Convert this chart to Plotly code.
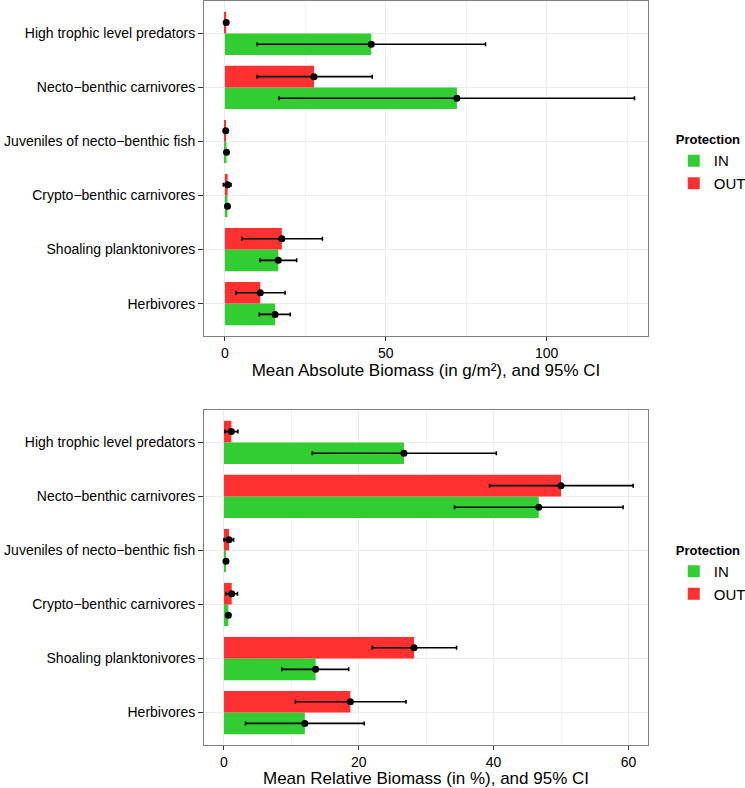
import plotly.graph_objects as go

categories = ["Herbivores", "Shoaling planktonivores", "Crypto\u2212benthic carnivores",
              "Juveniles of necto\u2212benthic fish", "Necto\u2212benthic carnivores",
              "High trophic level predators"]

# Absolute biomass (g/m2)
abs_in = [15.6, 16.6, 0.8, 0.5, 72.1, 45.5]
abs_in_lo = [10.7, 10.9, 0.8, 0.5, 16.8, 10.0]
abs_in_hi = [20.3, 22.3, 0.8, 0.5, 127.3, 81.0]
abs_out = [11.0, 17.7, 0.85, 0.25, 27.7, 0.4]
abs_out_lo = [3.4, 5.3, -0.5, 0.25, 10.0, 0.4]
abs_out_hi = [18.7, 30.3, 1.9, 0.25, 45.8, 0.4]

# Relative biomass (%)
rel_in = [12.0, 13.6, 0.65, 0.3, 46.7, 26.7]
rel_in_lo = [3.2, 8.6, 0.65, 0.3, 34.2, 13.1]
rel_in_hi = [20.8, 18.5, 0.65, 0.3, 59.2, 40.4]
rel_out = [18.75, 28.2, 1.15, 0.75, 50.0, 1.1]
rel_out_lo = [10.6, 22.0, 0.3, 0.0, 39.4, 0.15]
rel_out_hi = [27.0, 34.5, 2.0, 1.43, 60.7, 2.07]

groups = ["IN", "OUT"]
colors = {"IN": "#32CD32", "OUT": "#FF3030"}
offsets = {"IN": -0.2, "OUT": 0.2}

FONT = "Liberation Sans, Arial, Helvetica, sans-serif"
fig = go.Figure()

panels = [
    ("", "y", "legend", [(abs_in, abs_in_lo, abs_in_hi), (abs_out, abs_out_lo, abs_out_hi)]),
    ("2", "y2", "legend2", [(rel_in, rel_in_lo, rel_in_hi), (rel_out, rel_out_lo, rel_out_hi)]),
]
idx = list(range(len(categories)))
for suffix, yref, leg, data in panels:
    for g, (vals, lo, hi) in zip(groups, data):
        ypos = [i + offsets[g] for i in idx]
        fig.add_trace(go.Bar(
            x=vals, y=ypos, orientation="h", width=0.4, name=g,
            marker=dict(color=colors[g], line=dict(width=0)),
            xaxis="x" + suffix, yaxis=yref, legend=leg, showlegend=True,
        ))
    for g, (vals, lo, hi) in zip(groups, data):
        ypos = [i + offsets[g] for i in idx]
        fig.add_trace(go.Scatter(
            x=vals, y=ypos, mode="markers",
            marker=dict(color="black", size=7),
            error_x=dict(type="data", symmetric=False,
                         array=[h - v for h, v in zip(hi, vals)],
                         arrayminus=[v - l for v, l in zip(vals, lo)],
                         color="black", thickness=1.6, width=2),
            xaxis="x" + suffix, yaxis=yref, showlegend=False, hoverinfo="skip",
        ))

common_x = dict(showline=True, mirror=True, linecolor="#7F7F7F", linewidth=1,
                ticks="outside", ticklen=4, tickcolor="#333333", automargin=False,
                showgrid=True, gridcolor="#EBEBEB", gridwidth=1, zeroline=False,
                tickfont=dict(size=14, color="black", family=FONT))
common_y = dict(showline=True, mirror=True, linecolor="#7F7F7F", linewidth=1,
                ticks="outside", ticklen=5, tickcolor="#333333", automargin=False,
                showgrid=True, gridcolor="#EBEBEB", zeroline=False,
                tickvals=idx, ticktext=categories, range=[-0.6, 5.6],
                tickfont=dict(size=14, color="black", family=FONT))

leg_common = dict(xanchor="left", yanchor="top",
                  title=dict(text="<b>Protection</b>", font=dict(size=13, family=FONT)),
                  font=dict(size=15, family=FONT), tracegroupgap=0, itemwidth=30,
                  bgcolor="rgba(0,0,0,0)")

fig.update_layout(
    width=745, height=788,
    margin=dict(l=204, r=97, t=1, b=43, autoexpand=False),
    plot_bgcolor="white", paper_bgcolor="white",
    barmode="overlay",
    font=dict(family=FONT, color="black"),
    xaxis=dict(**common_x, domain=[0, 1], anchor="y", range=[-6.5, 131.5],
               tickvals=[0, 50, 100],
               minor=dict(tickvals=[25, 75, 125], showgrid=True, gridcolor="#F2F2F2", ticks=""),
               title=dict(text="Mean Absolute Biomass (in g/m\u00b2), and 95% CI",
                          font=dict(size=17, family=FONT), standoff=0)),
    yaxis=dict(**common_y, domain=[0.5497, 1.0], anchor="x"),
    xaxis2=dict(**common_x, domain=[0, 1], anchor="y2", range=[-2.96, 62.9],
                tickvals=[0, 20, 40, 60],
                minor=dict(tickvals=[10, 30, 50], showgrid=True, gridcolor="#F2F2F2", ticks=""),
                title=dict(text="Mean Relative Biomass (in %), and 95% CI",
                           font=dict(size=17, family=FONT), standoff=0)),
    yaxis2=dict(**common_y, domain=[0.0, 0.4503], anchor="x2"),
    legend=dict(**leg_common, x=1.058, y=0.83),
    legend2=dict(**leg_common, x=1.058, y=0.278),
)

fig.write_html("out.html", config={"displayModeBar": False},
               post_script="document.body.style.margin='0';document.body.style.overflow='hidden';")
